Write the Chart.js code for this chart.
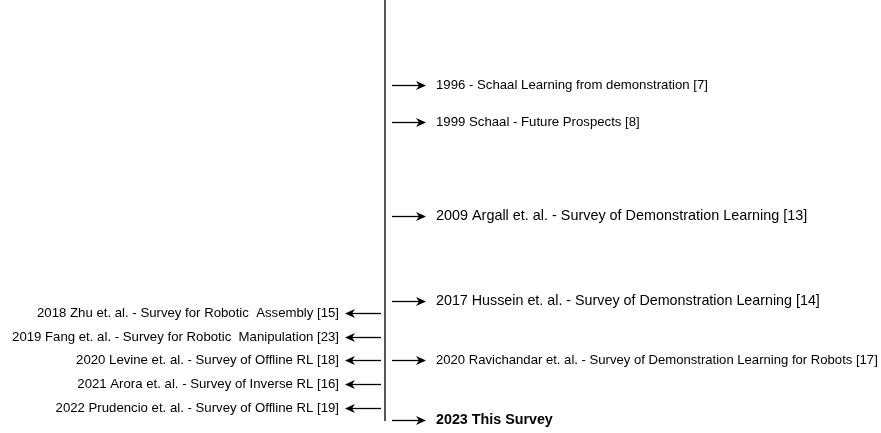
<!DOCTYPE html>
<html>
<head>
<meta charset="utf-8">
<script src="https://cdn.jsdelivr.net/npm/chart.js@4.4.0/dist/chart.umd.min.js"></script>
<style>
  html, body { margin: 0; padding: 0; background: #fff; }
  #wrap { width: 881px; height: 433px; }
</style>
</head>
<body>
<div id="wrap"><canvas id="timeline"></canvas></div>
<script>
// entries on the right of the timeline (position = place along the timeline, top = 0)
const rightLabels = [
    "1996 - Schaal Learning from demonstration [7]",
    "1999 Schaal - Future Prospects [8]",
    "2009 Argall et. al. - Survey of Demonstration Learning [13]",
    "2017 Hussein et. al. - Survey of Demonstration Learning [14]",
    "2020 Ravichandar et. al. - Survey of Demonstration Learning for Robots [17]",
    "2023 This Survey"
];
const rightPos = [85, 122, 216, 301, 360, 420];

// entries on the left of the timeline
const leftLabels = [
    "2018 Zhu et. al. - Survey for Robotic  Assembly [15]",
    "2019 Fang et. al. - Survey for Robotic  Manipulation [23]",
    "2020 Levine et. al. - Survey of Offline RL [18]",
    "2021 Arora et. al. - Survey of Inverse RL [16]",
    "2022 Prudencio et. al. - Survey of Offline RL [19]"
];
const leftPos = [313, 337, 360, 384, 408];

// the timeline runs from the top down to this point
const timelineStart = 0;
const timelineEnd = 421;

// layout / style
const timelineX = 385;
const rightFonts = [
    "13.2px 'Liberation Sans', Arial, sans-serif",
    "13.2px 'Liberation Sans', Arial, sans-serif",
    "14.4px 'Liberation Sans', Arial, sans-serif",
    "14.3px 'Liberation Sans', Arial, sans-serif",
    "13.1px 'Liberation Sans', Arial, sans-serif",
    "bold 14.3px 'Liberation Sans', Arial, sans-serif"
];
const leftFont = "13.2px 'Liberation Sans', Arial, sans-serif";

function drawArrow(ctx, x1, x2, y) {
    let dir = x2 > x1 ? 1 : -1;
    ctx.beginPath();
    ctx.moveTo(x1, y);
    ctx.lineTo(x2 - dir * 6, y);
    ctx.stroke();
    ctx.beginPath();
    ctx.moveTo(x2, y);
    ctx.lineTo(x2 - dir * 10, y - 4.5);
    ctx.lineTo(x2 - dir * 7, y);
    ctx.lineTo(x2 - dir * 10, y + 4.5);
    ctx.closePath();
    ctx.fill();
}

const arrowLabels = {
    id: "arrowLabels",
    afterDatasetsDraw(chart) {
        let ctx = chart.ctx;
        ctx.save();
        ctx.strokeStyle = "#000";
        ctx.fillStyle = "#000";
        ctx.lineWidth = 1.3;
        ctx.textBaseline = "middle";

        chart.getDatasetMeta(1).data.forEach(function(pt, i) {
            let y = Math.round(pt.y) + 0.5;
            drawArrow(ctx, pt.x + 7, pt.x + 41, y);
            ctx.font = rightFonts[i];
            ctx.textAlign = "left";
            ctx.fillText(rightLabels[i], pt.x + 51, y);
        });

        chart.getDatasetMeta(2).data.forEach(function(pt, i) {
            let y = Math.round(pt.y) + 0.5;
            drawArrow(ctx, pt.x - 4, pt.x - 40, y);
            ctx.font = leftFont;
            ctx.textAlign = "right";
            ctx.fillText(leftLabels[i], pt.x - 46, y);
        });
        ctx.restore();
    }
};

new Chart(document.getElementById("timeline"), {
    type: "scatter",
    data: {
        datasets: [
            {
                type: "line",
                data: [{x: timelineX, y: timelineStart}, {x: timelineX, y: timelineEnd}],
                borderColor: "#555",
                borderWidth: 2,
                pointRadius: 0
            },
            {
                data: rightPos.map(function(p) { return {x: timelineX, y: p}; }),
                pointRadius: 0
            },
            {
                data: leftPos.map(function(p) { return {x: timelineX, y: p}; }),
                pointRadius: 0
            }
        ]
    },
    options: {
        responsive: true,
        maintainAspectRatio: false,
        animation: false,
        layout: { padding: 0 },
        plugins: {
            legend: { display: false },
            tooltip: { enabled: false }
        },
        scales: {
            x: { type: "linear", min: 0, max: 881, display: false },
            y: { type: "linear", min: 0, max: 433, reverse: true, display: false }
        }
    },
    plugins: [arrowLabels]
});
</script>
</body>
</html>
